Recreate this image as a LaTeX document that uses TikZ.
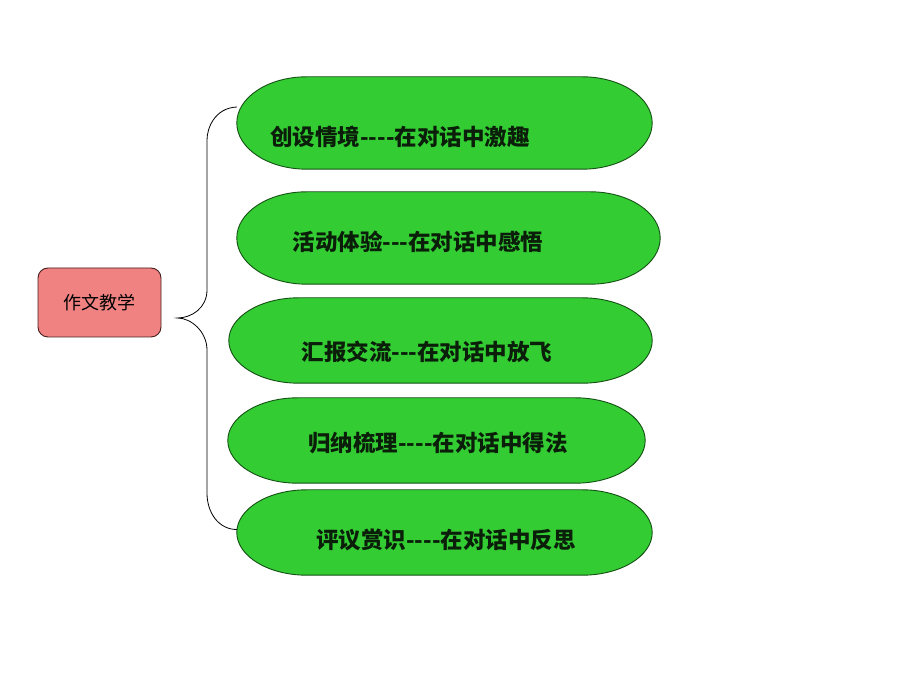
\documentclass[tikz,border=0pt]{standalone}
\usepackage{fontspec}
\newfontfamily\cjk{Noto Sans CJK SC}
\usetikzlibrary{calc}
\definecolor{gfill}{RGB}{51,204,51}
\definecolor{gline}{RGB}{20,80,20}
\definecolor{pfill}{RGB}{240,130,130}
\definecolor{pline}{RGB}{70,30,30}
\definecolor{txt}{RGB}{10,30,10}
\tikzset{
  pinkbox/.style={draw=pline, fill=pfill, line width=0.9pt, rounded corners=10pt,
    minimum width=123pt, minimum height=69pt, inner sep=0pt, font=\cjk\fontsize{18pt}{21pt}\selectfont},
  gholder/.style={inner sep=0pt, draw=none},
  gshape/.style={draw=gline, fill=gfill, line width=0.9pt},
  gtext/.style={inner sep=0pt, text=txt, font=\cjk\bfseries\fontsize{22.5pt}{25pt}\selectfont},
  bracestyle/.style={draw=black, line width=0.8pt}
}
% stadium with elliptical ends: #1 node name, #2 x-radius
\newcommand{\mystadium}[2]{%
  \path[gshape] let \p1=(#1.north west), \p2=(#1.south east), \n1={(\y1-\y2)/2} in
    (\x1+#2,\y1) -- (\x2-#2,\y1)
    arc[start angle=90,end angle=-90,x radius=#2,y radius=\n1]
    -- (\x1+#2,\y2)
    arc[start angle=270,end angle=90,x radius=#2,y radius=\n1] -- cycle;}
\begin{document}
\begin{tikzpicture}[x=1pt,y=1pt]
\path[use as bounding box, fill=white] (0,0) rectangle (920,690);

% pink root
\node[pinkbox] (root) at (99.5,387.5) {作文教学};

% green holders (y = 690 - ypx)
\node[gholder, minimum width=415pt, minimum height=92pt] (g1) at (444.5,567) {};
\node[gholder, minimum width=423pt, minimum height=92pt] (g2) at (448.5,452) {};
\node[gholder, minimum width=423pt, minimum height=85pt] (g3) at (440.5,349.5) {};
\node[gholder, minimum width=417pt, minimum height=85pt] (g4) at (436.5,249.5) {};
\node[gholder, minimum width=415pt, minimum height=85pt] (g5) at (444.5,157.5) {};

\mystadium{g1}{70pt}
\mystadium{g2}{70pt}
\mystadium{g3}{70pt}
\mystadium{g4}{70pt}
\mystadium{g5}{70pt}

\node[gtext] (t1) at (400,553) {创设情境----在对话中激趣};
\node[gtext] (t2) at (418,448) {活动体验---在对话中感悟};
\node[gtext] (t3) at (427,338) {汇报交流---在对话中放飞};
\node[gtext] (t4) at (438,247) {归纳梳理----在对话中得法};
\node[gtext] (t5) at (446,150) {评议赏识----在对话中反思};

% brace
\coordinate (btop) at ($(g1.west)+(0,16)$);
\coordinate (bbot) at ($(g5.west)+(0,3)$);
\coordinate (tip) at ($(root.east)+(16,-15.5)$);
\draw[bracestyle] (btop) .. controls +(-22,-1) and +(0,12) .. (207,550)
  -- (207,400) .. controls +(0,-18) and +(14,0) .. (tip)
  .. controls +(14,0) and +(0,18) .. (207,340)
  -- (207,197) .. controls +(0,-20) and +(-18,0) .. (bbot);
\end{tikzpicture}
\end{document}
